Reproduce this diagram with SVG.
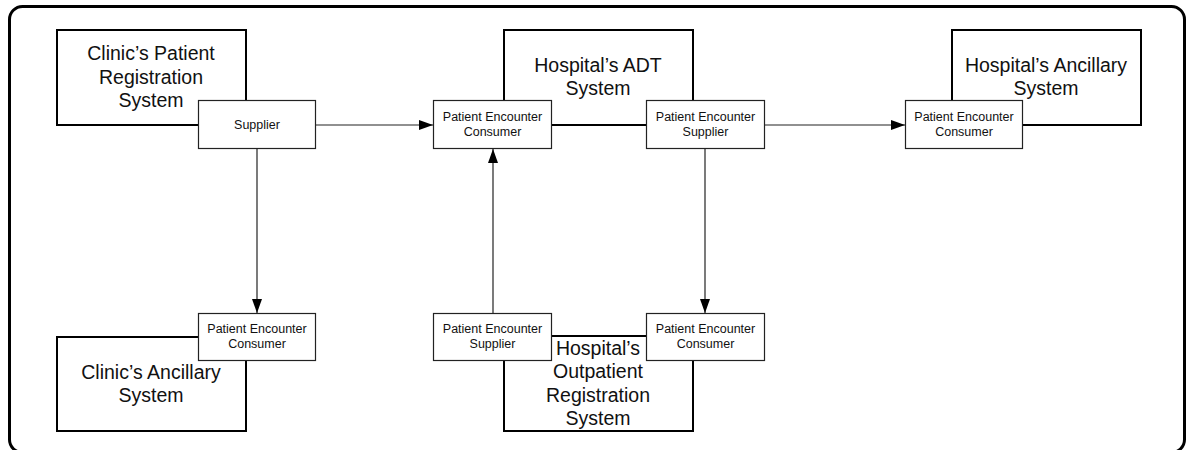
<svg xmlns="http://www.w3.org/2000/svg" width="1186" height="450" viewBox="0 0 1186 450">
<defs>
<marker id="arr" markerUnits="userSpaceOnUse" markerWidth="14" markerHeight="10" refX="14" refY="5" orient="auto">
<path d="M0,0 L14,5 L0,10 z" fill="#000"/>
</marker>
<style>
.big{fill:#fff;stroke:#000;stroke-width:2}
.small{fill:#fff;stroke:#222;stroke-width:1.2}
.bt{font-family:"Liberation Sans",Arial,sans-serif;font-size:19.5px;fill:#111;text-anchor:middle}
.st{font-family:"Liberation Sans",Arial,sans-serif;font-size:12.5px;fill:#111;text-anchor:middle}
.conn{stroke:#222;stroke-width:1.2;fill:none}
</style>
</defs>
<rect x="9.5" y="6.5" width="1175" height="446" rx="13" fill="#fff" stroke="#000" stroke-width="3"/>

<g id="clinic-reg">
<rect class="big" x="57" y="30" width="189" height="95"/>
<text class="bt" x="151" y="60">Clinic’s Patient</text>
<text class="bt" x="151" y="83.5">Registration</text>
<text class="bt" x="151" y="107">System</text>
</g>
<g id="hospital-adt">
<rect class="big" x="504" y="30" width="189" height="95"/>
<text class="bt" x="598" y="72">Hospital’s ADT</text>
<text class="bt" x="598" y="95">System</text>
</g>
<g id="hospital-ancillary">
<rect class="big" x="952" y="30" width="189" height="95"/>
<text class="bt" x="1046" y="72">Hospital’s Ancillary</text>
<text class="bt" x="1046" y="95">System</text>
</g>
<g id="clinic-ancillary">
<rect class="big" x="57" y="337" width="189" height="94"/>
<text class="bt" x="151" y="379">Clinic’s Ancillary</text>
<text class="bt" x="151" y="402">System</text>
</g>
<g id="hospital-outpatient">
<rect class="big" x="504" y="336" width="189" height="95"/>
<text class="bt" x="598" y="355">Hospital’s</text>
<text class="bt" x="598" y="378">Outpatient</text>
<text class="bt" x="598" y="402">Registration</text>
<text class="bt" x="598" y="425">System</text>
</g>

<g id="connectors">
<line class="conn" x1="316" y1="125" x2="433" y2="125" marker-end="url(#arr)"/>
<line class="conn" x1="764" y1="125" x2="905" y2="125" marker-end="url(#arr)"/>
<line class="conn" x1="257" y1="149" x2="257" y2="313" marker-end="url(#arr)"/>
<line class="conn" x1="493" y1="313" x2="493" y2="149" marker-end="url(#arr)"/>
<line class="conn" x1="705" y1="149" x2="705" y2="313" marker-end="url(#arr)"/>
</g>

<g id="clinic-supplier">
<rect class="small" x="198.5" y="100.5" width="117" height="48"/>
<text class="st" x="257" y="129">Supplier</text>
</g>
<g id="adt-consumer">
<rect class="small" x="433.5" y="100.5" width="118" height="48"/>
<text class="st" x="492.5" y="121">Patient Encounter</text>
<text class="st" x="492.5" y="136">Consumer</text>
</g>
<g id="adt-supplier">
<rect class="small" x="646.5" y="100.5" width="118" height="48"/>
<text class="st" x="705.5" y="121">Patient Encounter</text>
<text class="st" x="705.5" y="136">Supplier</text>
</g>
<g id="ancillary-consumer">
<rect class="small" x="905.5" y="100.5" width="117" height="48"/>
<text class="st" x="964" y="121">Patient Encounter</text>
<text class="st" x="964" y="136">Consumer</text>
</g>
<g id="clinic-ancillary-consumer">
<rect class="small" x="198.5" y="313.5" width="117" height="47"/>
<text class="st" x="257" y="333">Patient Encounter</text>
<text class="st" x="257" y="348">Consumer</text>
</g>
<g id="outpatient-supplier">
<rect class="small" x="433.5" y="313.5" width="118" height="47"/>
<text class="st" x="492.5" y="333">Patient Encounter</text>
<text class="st" x="492.5" y="348">Supplier</text>
</g>
<g id="outpatient-consumer">
<rect class="small" x="646.5" y="313.5" width="118" height="47"/>
<text class="st" x="705.5" y="333">Patient Encounter</text>
<text class="st" x="705.5" y="348">Consumer</text>
</g>
</svg>
